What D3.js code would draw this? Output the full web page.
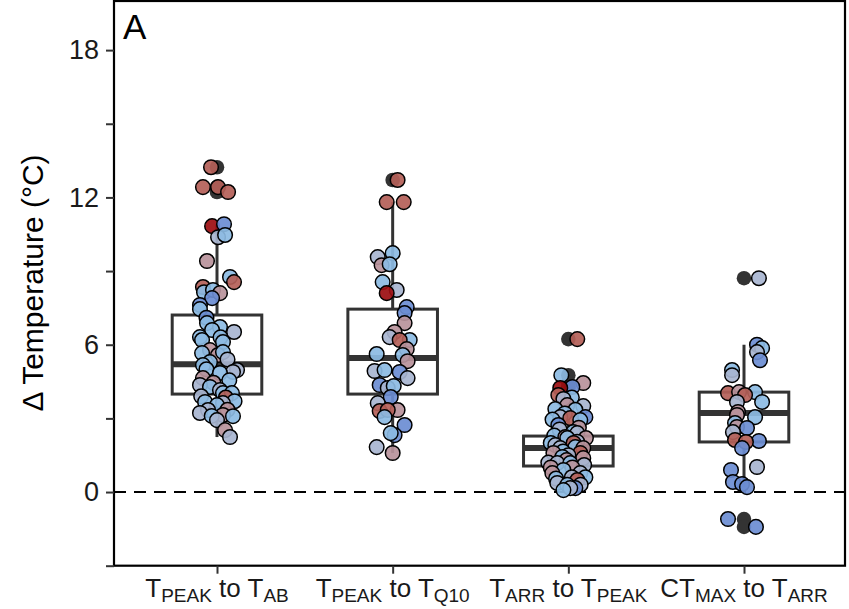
<!DOCTYPE html>
<html>
<head>
<meta charset="utf-8">
<script src="https://cdn.jsdelivr.net/npm/d3@7"></script>
<style>
  html, body { margin: 0; padding: 0; background: #fff; }
  svg { display: block; font-family: "Liberation Sans", Arial, Helvetica, sans-serif; }
</style>
</head>
<body>
<svg id="chart" width="849" height="609"></svg>
<script>
// Comparison groups (x axis), each label written as [main text, subscript] pairs
const categories = ["peak_ab", "peak_q10", "arr_peak", "ctmax_arr"];
const categoryLabels = [
  [["T", "PEAK"], [" to T", "AB"]],
  [["T", "PEAK"], [" to T", "Q10"]],
  [["T", "ARR"], [" to T", "PEAK"]],
  [["CT", "MAX"], [" to T", "ARR"]]
];

// Box summaries per group (°C)
const q1 = [3.99, 3.99, 1.06, 2.04];
const median = [5.21, 5.46, 1.79, 3.22];
const q3 = [7.21, 7.45, 2.28, 4.07];
const whiskerLo = [2.24, 1.59, 0.08, 0.20];
const whiskerHi = [10.91, 11.81, 3.95, 6.00];

// Y axis ticks; only every other tick carries a label
const yTicks = [-3, 0, 3, 6, 9, 12, 15, 18];
const yTickLabels = ["", "0", "", "6", "", "12", "", "18"];

// Point tones (diverging warm-to-cool scale)
const toneNames = ["DR", "RB", "MV", "GB", "LB", "MB"];
const toneColors = ["#9c0d10", "#b45f58", "#b9939b", "#a8b5d0", "#8cbbe3", "#6b8dd3"];

// Individual observations: [jitter (fraction of group spacing), ΔT (°C), tone]
const pointsPeakAb = [
  [-0.034, 13.23, "RB"], [-0.080, 12.42, "RB"], [0.006, 12.42, "RB"], [0.063, 12.22, "RB"],
  [-0.028, 10.83, "DR"], [0.040, 10.91, "MB"], [0.006, 10.38, "GB"], [0.046, 10.47, "LB"],
  [-0.057, 9.41, "MV"], [0.074, 8.76, "LB"], [0.097, 8.55, "RB"], [-0.080, 8.35, "RB"],
  [-0.074, 8.14, "LB"], [-0.023, 8.23, "LB"], [0.017, 8.10, "MV"], [-0.028, 7.90, "MB"],
  [-0.097, 7.62, "MB"], [-0.097, 7.45, "LB"], [-0.060, 7.10, "MB"], [-0.057, 6.88, "LB"],
  [0.017, 6.72, "LB"], [-0.028, 6.60, "LB"], [0.097, 6.52, "GB"], [-0.097, 6.31, "LB"],
  [0.020, 6.30, "LB"], [-0.085, 6.19, "LB"], [0.034, 6.11, "LB"], [-0.040, 5.78, "MV"],
  [-0.085, 5.66, "LB"], [0.006, 5.58, "MV"], [0.034, 5.70, "LB"], [0.060, 5.40, "GB"],
  [-0.040, 5.29, "LB"], [-0.080, 5.17, "LB"], [-0.060, 5.00, "LB"], [0.114, 4.97, "GB"],
  [0.091, 4.89, "GB"], [0.017, 4.85, "LB"], [-0.080, 4.64, "MV"], [0.070, 4.55, "LB"],
  [-0.020, 4.45, "MV"], [-0.097, 4.36, "GB"], [-0.040, 4.28, "LB"], [0.017, 4.15, "GB"],
  [0.034, 4.03, "LB"], [0.085, 4.03, "LB"], [-0.090, 3.90, "GB"], [0.050, 3.85, "RB"],
  [0.100, 3.70, "LB"], [-0.068, 3.67, "LB"], [0.034, 3.62, "GB"], [0.000, 3.54, "LB"],
  [0.060, 3.35, "MV"], [-0.051, 3.34, "GB"], [-0.097, 3.22, "GB"], [0.034, 3.14, "MV"],
  [-0.030, 3.10, "LB"], [0.091, 3.09, "LB"], [0.000, 2.93, "GB"], [0.046, 2.52, "MV"],
  [0.074, 2.24, "GB"]
];
const pointsPeakQ10 = [
  [0.028, 12.71, "RB"], [-0.034, 11.81, "RB"], [0.063, 11.81, "RB"], [-0.085, 9.57, "GB"],
  [0.000, 9.73, "LB"], [-0.063, 9.24, "MV"], [-0.017, 9.28, "LB"], [-0.057, 8.55, "LB"],
  [0.023, 8.23, "GB"], [-0.034, 8.10, "DR"], [0.080, 7.53, "MB"], [0.068, 7.29, "MB"],
  [0.068, 6.88, "MV"], [0.011, 6.52, "MV"], [-0.017, 6.31, "GB"], [0.097, 6.19, "LB"],
  [0.040, 6.19, "RB"], [0.080, 5.82, "MV"], [-0.091, 5.62, "LB"], [0.057, 5.58, "LB"],
  [0.085, 5.33, "MV"], [-0.103, 4.93, "GB"], [-0.046, 4.97, "LB"], [0.040, 4.89, "MB"],
  [0.085, 4.64, "GB"], [-0.074, 4.36, "MB"], [-0.028, 4.24, "GB"], [0.006, 4.32, "LB"],
  [-0.011, 3.87, "MB"], [-0.085, 3.62, "GB"], [-0.074, 3.30, "RB"], [0.028, 3.34, "MV"],
  [-0.028, 3.34, "RB"], [-0.046, 3.05, "LB"], [0.068, 2.73, "MB"], [0.011, 2.32, "MB"],
  [-0.011, 2.40, "LB"], [-0.091, 1.83, "GB"], [0.000, 1.59, "MV"]
];
const pointsArrPeak = [
  [0.051, 6.23, "RB"], [-0.040, 4.76, "LB"], [0.085, 4.44, "MV"], [0.023, 4.28, "MB"],
  [-0.046, 4.24, "DR"], [-0.057, 3.95, "RB"], [0.020, 3.85, "LB"], [-0.028, 3.79, "GB"],
  [-0.006, 3.54, "MV"], [0.085, 3.50, "GB"], [-0.074, 3.38, "LB"], [0.040, 3.35, "LB"],
  [-0.020, 3.20, "LB"], [-0.046, 3.05, "GB"], [0.097, 3.05, "MB"], [0.011, 3.01, "RB"],
  [-0.090, 2.95, "LB"], [0.068, 2.93, "LB"], [-0.057, 2.73, "MB"], [0.060, 2.62, "MV"],
  [-0.050, 2.55, "GB"], [0.028, 2.44, "LB"], [0.051, 2.40, "GB"], [-0.080, 2.30, "LB"],
  [-0.017, 2.24, "MV"], [0.100, 2.20, "MV"], [-0.006, 2.20, "LB"], [0.050, 2.05, "GB"],
  [-0.100, 2.00, "LB"], [0.030, 2.00, "RB"], [-0.074, 1.91, "GB"], [0.040, 1.83, "LB"],
  [0.085, 1.79, "MV"], [-0.046, 1.79, "GB"], [-0.030, 1.65, "LB"], [-0.085, 1.59, "MV"],
  [0.068, 1.59, "RB"], [0.000, 1.50, "GB"], [-0.034, 1.43, "LB"], [0.085, 1.38, "MV"],
  [-0.010, 1.30, "MV"], [-0.114, 1.20, "GB"], [-0.063, 1.18, "GB"], [0.011, 1.18, "LB"],
  [0.090, 1.10, "GB"], [0.023, 1.00, "MV"], [-0.100, 1.00, "MV"], [-0.028, 0.90, "LB"],
  [-0.091, 0.77, "MV"], [0.068, 0.77, "GB"], [0.097, 0.60, "LB"], [0.020, 0.60, "GB"],
  [-0.070, 0.55, "LB"], [0.051, 0.49, "RB"], [-0.063, 0.37, "GB"], [0.070, 0.30, "GB"],
  [-0.006, 0.29, "LB"], [0.040, 0.16, "MB"], [0.011, 0.16, "GB"], [-0.028, 0.08, "LB"]
];
const pointsCtmaxArr = [
  [0.085, 8.71, "GB"], [0.074, 6.00, "MB"], [0.103, 5.86, "LB"], [0.074, 5.70, "GB"],
  [0.091, 5.37, "MB"], [-0.068, 4.97, "LB"], [-0.068, 4.76, "GB"], [-0.091, 4.03, "RB"],
  [0.063, 4.07, "LB"], [-0.028, 4.07, "MV"], [0.006, 3.95, "RB"], [0.103, 3.67, "LB"],
  [-0.040, 3.67, "GB"], [-0.034, 3.26, "MV"], [-0.040, 3.14, "MV"], [0.063, 3.05, "LB"],
  [-0.051, 2.81, "LB"], [-0.040, 2.65, "MV"], [0.017, 2.61, "MB"], [-0.063, 2.44, "GB"],
  [-0.051, 2.12, "RB"], [0.085, 2.08, "MB"], [0.011, 2.04, "RB"], [-0.011, 1.79, "MB"],
  [0.074, 1.02, "GB"], [-0.074, 0.90, "MB"], [-0.063, 0.41, "MB"], [-0.011, 0.33, "MB"],
  [0.017, 0.20, "MB"], [-0.091, -1.10, "MB"], [0.068, -1.42, "MB"]
];
const groupPoints = [pointsPeakAb, pointsPeakQ10, pointsArrPeak, pointsCtmaxArr];

// ---------------------------------------------------------------------------
const svg = d3.select("#chart");
const panel = { left: 114, right: 845, top: 1, bottom: 565.7 };
const ink = "#333333";

const x = d3.scalePoint().domain(categories).range([217, 744]);
const step = x.step();
const y = d3.scaleLinear().domain([-3, 20]).range([panel.bottom, panel.top]);
const tone = d3.scaleOrdinal().domain(toneNames).range(toneColors);

const boxHalf = step * 0.255;
const radius = 7.3;

// zero reference line
svg.append("line")
  .attr("x1", panel.left).attr("x2", panel.right)
  .attr("y1", y(0)).attr("y2", y(0))
  .attr("stroke", "#000").attr("stroke-width", 2)
  .attr("stroke-dasharray", "12,8");

// boxplots
const boxes = svg.append("g");
categories.forEach((c, i) => {
  const cx = x(c);
  const g = boxes.append("g");
  g.append("line").attr("x1", cx).attr("x2", cx)
    .attr("y1", y(q3[i])).attr("y2", y(whiskerHi[i]))
    .attr("stroke", ink).attr("stroke-width", 3);
  g.append("line").attr("x1", cx).attr("x2", cx)
    .attr("y1", y(q1[i])).attr("y2", y(whiskerLo[i]))
    .attr("stroke", ink).attr("stroke-width", 3);
  g.append("rect")
    .attr("x", cx - boxHalf).attr("width", boxHalf * 2)
    .attr("y", y(q3[i])).attr("height", y(q1[i]) - y(q3[i]))
    .attr("fill", "#fff").attr("stroke", ink).attr("stroke-width", 3);
  g.append("line").attr("x1", cx - boxHalf).attr("x2", cx + boxHalf)
    .attr("y1", y(median[i])).attr("y2", y(median[i]))
    .attr("stroke", ink).attr("stroke-width", 6);

  // observations beyond the whiskers, drawn at the group centre
  const outliers = groupPoints[i].filter(p => p[1] > whiskerHi[i] || p[1] < whiskerLo[i]);
  g.selectAll("circle.out").data(outliers).join("circle")
    .attr("class", "out")
    .attr("cx", cx).attr("cy", d => y(d[1])).attr("r", radius)
    .attr("fill", ink);
});

// jittered observations
const pts = svg.append("g");
categories.forEach((c, i) => {
  pts.append("g").selectAll("circle").data(groupPoints[i]).join("circle")
    .attr("cx", d => x(c) + d[0] * step)
    .attr("cy", d => y(d[1]))
    .attr("r", radius)
    .attr("fill", d => tone(d[2]))
    .attr("fill-opacity", 0.92)
    .attr("stroke", "#000")
    .attr("stroke-width", 1.5);
});

// panel border
svg.append("rect")
  .attr("x", panel.left).attr("y", panel.top)
  .attr("width", panel.right - panel.left).attr("height", panel.bottom - panel.top)
  .attr("fill", "none").attr("stroke", "#000").attr("stroke-width", 2.2);

// y axis
const yAxis = d3.axisLeft(y).tickValues(yTicks)
  .tickFormat((d, i) => yTickLabels[i]).tickSize(8).tickPadding(7);
const yg = svg.append("g").attr("transform", `translate(${panel.left},0)`).call(yAxis);
yg.select(".domain").remove();
yg.selectAll(".tick line").attr("stroke", ink).attr("stroke-width", 2);
yg.selectAll(".tick text").attr("fill", "#1a1a1a")
  .style("font-size", "27px").style("font-family", "'Liberation Sans', Arial, sans-serif");

// x axis
const xAxis = d3.axisBottom(x).tickSize(8).tickFormat("");
const xg = svg.append("g").attr("transform", `translate(0,${panel.bottom})`).call(xAxis);
xg.select(".domain").remove();
xg.selectAll(".tick line").attr("stroke", ink).attr("stroke-width", 2);

categories.forEach((c, i) => {
  const t = svg.append("text")
    .attr("x", x(c)).attr("y", 597)
    .attr("text-anchor", "middle")
    .attr("fill", "#1a1a1a")
    .style("font-size", "26px");
  categoryLabels[i].forEach((part, k) => {
    t.append("tspan").text(part[0]).attr("dy", k === 0 ? 0 : -5);
    t.append("tspan").text(part[1]).style("font-size", "19px").attr("dy", 5);
  });
});

// axis title
svg.append("text")
  .attr("transform", `translate(43,283) rotate(-90)`)
  .attr("text-anchor", "middle")
  .attr("fill", "#000")
  .style("font-size", "30px")
  .text("Δ Temperature (°C)");

// panel tag
svg.append("text")
  .attr("x", 123).attr("y", 39)
  .attr("fill", "#000")
  .style("font-size", "35px")
  .text("A");
</script>
</body>
</html>
